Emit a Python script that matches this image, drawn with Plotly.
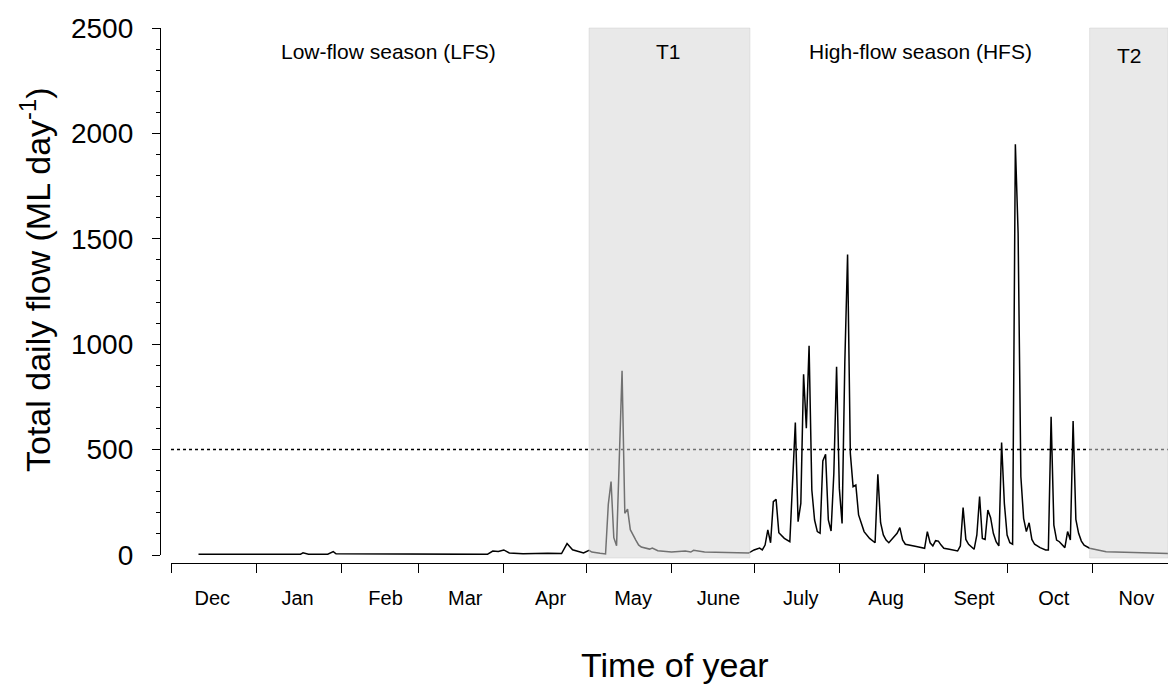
import plotly.graph_objects as go

# Daily flow readings (ML/day)
flow_dates = [
    "2012-12-11", "2013-01-17", "2013-01-18", "2013-01-20", "2013-01-27", "2013-01-29", "2013-01-30",
    "2013-02-14", "2013-02-27", "2013-03-26", "2013-03-28", "2013-03-30", "2013-04-01", "2013-04-03",
    "2013-04-08", "2013-04-15", "2013-04-17", "2013-04-22", "2013-04-24", "2013-04-26", "2013-04-29",
    "2013-04-30", "2013-05-02", "2013-05-03", "2013-05-06", "2013-05-08", "2013-05-09", "2013-05-10",
    "2013-05-11", "2013-05-12", "2013-05-14", "2013-05-15", "2013-05-16", "2013-05-17", "2013-05-19",
    "2013-05-20", "2013-05-21", "2013-05-24", "2013-05-25", "2013-05-27", "2013-06-01", "2013-06-06",
    "2013-06-08", "2013-06-09", "2013-06-13", "2013-06-24", "2013-06-29",
    "2013-07-01", "2013-07-03", "2013-07-04", "2013-07-05", "2013-07-06", "2013-07-07", "2013-07-08",
    "2013-07-09", "2013-07-10", "2013-07-12", "2013-07-14", "2013-07-15", "2013-07-16", "2013-07-17",
    "2013-07-18", "2013-07-19", "2013-07-20", "2013-07-21", "2013-07-22", "2013-07-23", "2013-07-24",
    "2013-07-25", "2013-07-26", "2013-07-27", "2013-07-28", "2013-07-29", "2013-07-30", "2013-07-31",
    "2013-08-01", "2013-08-02", "2013-08-03", "2013-08-04", "2013-08-05", "2013-08-06", "2013-08-07",
    "2013-08-08", "2013-08-09", "2013-08-10", "2013-08-12", "2013-08-14", "2013-08-15", "2013-08-16",
    "2013-08-17", "2013-08-18", "2013-08-19", "2013-08-20", "2013-08-21", "2013-08-22", "2013-08-23",
    "2013-08-24", "2013-08-25", "2013-08-27", "2013-08-29",
    "2013-09-01", "2013-09-02", "2013-09-03", "2013-09-04", "2013-09-05", "2013-09-06", "2013-09-07",
    "2013-09-08", "2013-09-10", "2013-09-13", "2013-09-14", "2013-09-15", "2013-09-16", "2013-09-17",
    "2013-09-19", "2013-09-20", "2013-09-21", "2013-09-22", "2013-09-23", "2013-09-24", "2013-09-25",
    "2013-09-26", "2013-09-27", "2013-09-28", "2013-09-29", "2013-09-30",
    "2013-10-01", "2013-10-02", "2013-10-03", "2013-10-04", "2013-10-05", "2013-10-06", "2013-10-07",
    "2013-10-08", "2013-10-09", "2013-10-10", "2013-10-11", "2013-10-13", "2013-10-15", "2013-10-16",
    "2013-10-17", "2013-10-18", "2013-10-19", "2013-10-20", "2013-10-22", "2013-10-23", "2013-10-24",
    "2013-10-25", "2013-10-26", "2013-10-27", "2013-10-28", "2013-10-29", "2013-10-31",
    "2013-11-06", "2013-11-16", "2013-11-29",
]
flow_values = [
    3, 3, 10, 4, 4, 16, 6,
    6, 3, 3, 19, 17, 24, 10,
    6, 9, 8, 7, 54, 25, 12,
    10, 22, 14, 8, 5, 240, 348,
    82, 44, 874, 198, 218, 120, 71,
    48, 38, 28, 33, 20, 14, 19,
    14, 22, 14, 12, 9,
    24, 33, 24, 47, 119, 58, 253,
    264, 106, 79, 63, 387, 628, 158,
    245, 857, 601, 993, 308, 166, 111,
    103, 446, 478, 166, 114, 387, 893,
    316, 150, 917, 1426, 482, 324, 332,
    190, 150, 111, 79, 58, 383, 153,
    95, 71, 58, 74, 87, 103, 130,
    71, 51, 44, 40,
    32, 111, 58, 43, 68, 66, 47,
    32, 27, 19, 43, 225, 74, 51,
    27, 95, 277, 79, 74, 213, 177,
    103, 63, 43, 533, 245,
    95, 58, 51, 1948, 1526, 372, 174,
    111, 153, 74, 51, 35, 24, 24,
    656, 142, 71, 63, 35, 111, 71,
    636, 169, 103, 66, 47, 32,
    16, 12, 7,
]

# Month boundaries (tick marks) and month-name label positions
month_starts = [
    "2012-12-01", "2013-01-01", "2013-02-01", "2013-03-01", "2013-04-01", "2013-05-01",
    "2013-06-01", "2013-07-01", "2013-08-01", "2013-09-01", "2013-10-01", "2013-11-01",
]
month_label_dates = [
    "2012-12-16", "2013-01-16", "2013-02-17", "2013-03-18", "2013-04-18", "2013-05-18",
    "2013-06-18", "2013-07-18", "2013-08-18", "2013-09-19", "2013-10-18", "2013-11-17",
]
month_names = ["Dec", "Jan", "Feb", "Mar", "Apr", "May", "June", "July", "Aug", "Sept", "Oct", "Nov"]

# Transition periods (shaded) and threshold
t1_period = ["2013-05-02", "2013-06-29 12:00"]
t2_period = ["2013-10-31", "2013-11-28 12:00"]
x_range = ["2012-12-01", "2013-11-28 12:00"]
threshold = 500

FONT = "Arial, Liberation Sans, sans-serif"

fig = go.Figure()
fig.add_trace(go.Scatter(
    x=flow_dates, y=flow_values, mode="lines",
    line=dict(color="black", width=1.5), showlegend=False, hoverinfo="skip",
))

shade = dict(type="rect", xref="x", yref="paper", y0=0.0093, y1=1, layer="above",
             fillcolor="rgba(213,213,213,0.53)", line=dict(color="rgba(200,200,200,0.4)", width=1))
fig.update_layout(shapes=[
    dict(type="line", xref="x", yref="y", x0=x_range[0], x1=x_range[1], y0=threshold, y1=threshold,
         layer="above", line=dict(color="black", width=1.5, dash="3px,3px")),
    dict(shade, x0=t1_period[0], x1=t1_period[1]),
    dict(shade, x0=t2_period[0], x1=t2_period[1]),
])

ann_font = dict(family=FONT, size=21, color="black")
annotations = [
    dict(text="Low-flow season (LFS)", x=388, y=52),
    dict(text="T1", x=668, y=52),
    dict(text="High-flow season (HFS)", x=920, y=52),
    dict(text="T2", x=1129, y=56),
]
for a in annotations:
    fig.add_annotation(text=a["text"], xref="paper", yref="paper",
                       x=(a["x"] - 160) / 1008, y=(563 - a["y"]) / 535,
                       xanchor="center", yanchor="middle", showarrow=False, font=ann_font)

fig.add_annotation(text="Time of year", xref="paper", yref="paper",
                   x=(675 - 160) / 1008, y=(563 - 665) / 535, xanchor="center", yanchor="middle",
                   showarrow=False, font=dict(family=FONT, size=34, color="black"))
fig.add_annotation(text="Total daily flow (ML day<sup>-1</sup>)", xref="paper", yref="paper",
                   x=(35 - 160) / 1008, y=(563 - 280) / 535, xanchor="center", yanchor="middle",
                   textangle=-90, showarrow=False, font=dict(family=FONT, size=34, color="black"))

fig.update_layout(
    width=1168, height=684,
    margin=dict(l=160, r=0, t=28, b=121),
    paper_bgcolor="white", plot_bgcolor="white",
    font=dict(family=FONT, color="black"),
    xaxis=dict(
        type="date", range=x_range, domain=[11 / 1008, 1], anchor="free", position=0,
        showline=True, linecolor="black", linewidth=1.3, showgrid=False, zeroline=False,
        tickmode="array", tickvals=month_label_dates, ticktext=month_names,
        ticks="outside", ticklen=17, tickcolor="rgba(0,0,0,0)",
        tickfont=dict(family=FONT, size=20, color="black"),
        minor=dict(tickmode="array", tickvals=month_starts, ticks="outside", ticklen=9,
                   tickcolor="black", tickwidth=1.3, showgrid=False),
    ),
    yaxis=dict(
        range=[0, 2500], domain=[8 / 535, 1], anchor="free", position=0,
        showline=True, linecolor="black", linewidth=1.3, showgrid=False, zeroline=False,
        tickmode="linear", tick0=0, dtick=500, ticks="outside", ticklen=8, tickwidth=1.3,
        tickcolor="black", ticklabelstandoff=13,
        tickfont=dict(family=FONT, size=28, color="black"),
        minor=dict(dtick=100, ticks="outside", ticklen=4, tickcolor="black", tickwidth=1, showgrid=False),
    ),
)

fig.write_html("out.html")
